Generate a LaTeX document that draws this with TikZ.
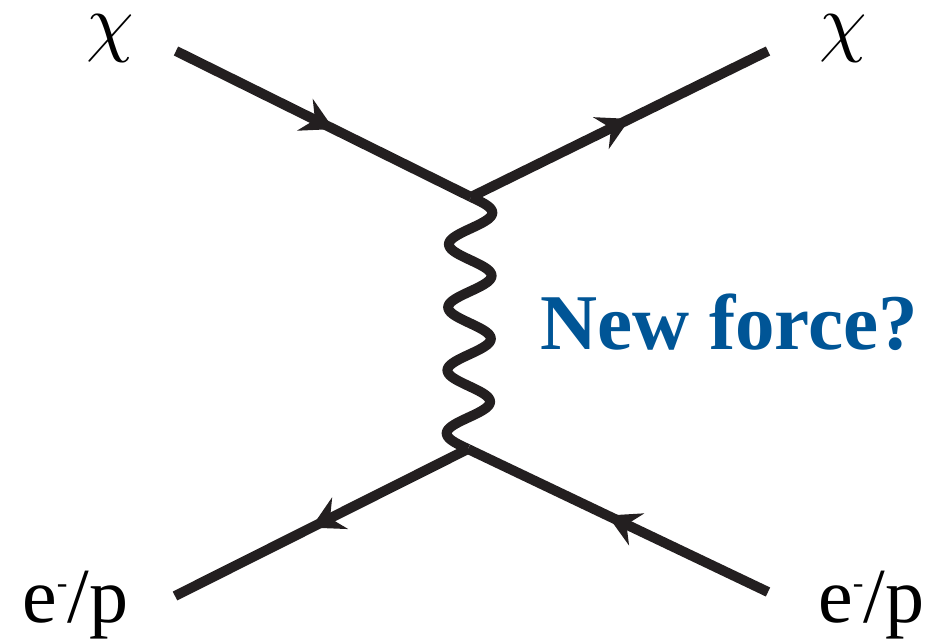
\documentclass[tikz,border=0pt]{standalone}
\usepackage{fontspec}
\usepackage{graphicx}
\setmainfont{Liberation Serif}
\usetikzlibrary{arrows.meta,decorations.markings,calc}
\definecolor{ink}{HTML}{231F20}
\definecolor{forceblue}{HTML}{005596}
\tikzset{
  fermion/.style={draw=ink, line width=10pt, line cap=butt,
    postaction={decorate},
    decoration={markings, mark=at position 0.535 with {\arrow[ink]{Stealth[length=32pt,width=35pt,inset=11pt]}}}},
  photon/.style={draw=ink, line width=10pt, line join=round, line cap=butt},
  lbl/.style={inner sep=0pt, font=\fontsize{78}{80}\selectfont},
}
\newcommand{\eminus}{e\raisebox{29pt}{\fontsize{32}{32}\selectfont -}/p}
\newcommand{\bigchi}{\scalebox{7.6}{$\chi$}}
\begin{document}
\begin{tikzpicture}[x=1pt,y=-1pt]
\useasboundingbox (0,0) rectangle (938,639);
\coordinate (v1) at (471,197);
\coordinate (v2) at (468,449);
\coordinate (a) at (176,51);
\coordinate (b) at (768,51);
\coordinate (c) at (175,596);
\coordinate (d) at (768,592);
\draw[photon] let \p1=(v1), \p2=(v2) in
  plot[domain=0:1, samples=241, smooth, variable=\t]
  ({\x1+(\x2-\x1)*\t+21.5pt*sin(1440*\t)}, {\y1+(\y2-\y1)*\t});
\draw[fermion] (a) -- (v1);
\draw[fermion] (v1) -- (b);
\draw[fermion] (v2) -- (c);
\draw[fermion] (d) -- (v2);
\node[inner sep=0pt, anchor=base] (chi1) at (110,48) {\bigchi};
\node[inner sep=0pt, anchor=base] (chi2) at (843,48) {\bigchi};
\node[lbl, anchor=base west] (ep1) at (22,622) {\eminus};
\node[lbl, anchor=base west] (ep2) at (818,622) {\eminus};
\node[inner sep=0pt, anchor=base west, text=forceblue, font=\fontsize{79}{80}\selectfont\bfseries] (nf) at (540,350) {New force?};
\end{tikzpicture}
\end{document}
